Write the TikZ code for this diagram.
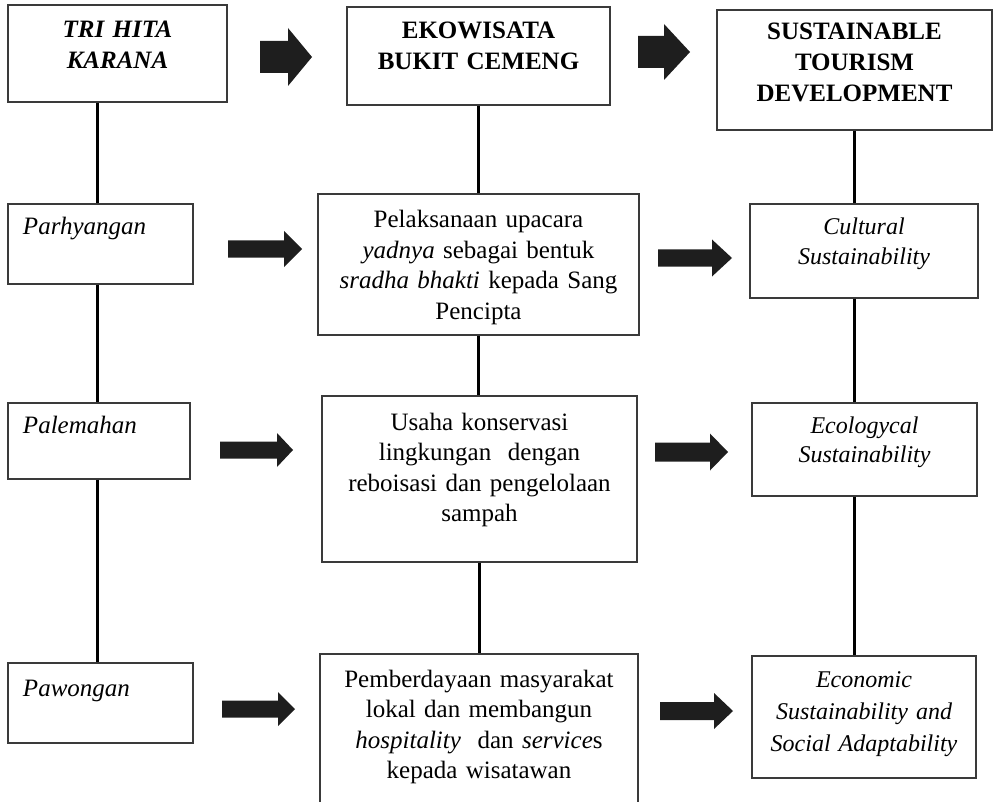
\documentclass[tikz,border=0pt]{standalone}
\usepackage{fontspec}
\setmainfont{Liberation Serif}
\usetikzlibrary{positioning}
\definecolor{framegray}{HTML}{3A3A3A}
\definecolor{arrowblack}{HTML}{1E1E1E}

\begin{document}
\begin{tikzpicture}%
		[x=1pt, y=-1pt,
		frame/.style={draw=framegray, line width=1.3pt, inner xsep=4pt, inner ysep=0pt,
			align=center, font=\fontsize{25}{30.5}\selectfont},
		head/.style={frame, font=\fontsize{25}{31}\selectfont\bfseries},
		side/.style={frame, align=left, inner xsep=15pt, font=\fontsize{25}{30}\selectfont\itshape},
		link/.style={line width=3pt, draw=black}
		]
		\clip (0,0) rectangle (1003,802);
		% top row
		\node[head, text width=211pt, text height=33pt, text depth=64pt, font=\fontsize{25}{31}\selectfont\bfseries\itshape]
			(thk) at (117.5,53.5) {TRI HITA\\KARANA};
		\node[head, text width=255pt, text height=32pt, text depth=66pt] (eko) at (478.5,56) {EKOWISATA\\BUKIT CEMENG};
		\node[head, text width=267pt, text height=30pt, text depth=90pt] (std) at (854.5,70) {SUSTAINABLE\\TOURISM\\DEVELOPMENT};
		% left column
		\node[side, text width=155pt, text height=31pt, text depth=49pt] (par) at (100.5,244) {Parhyangan};
		\node[side, text width=152pt, text height=30pt, text depth=46pt] (pal) at (99,441) {Palemahan};
		\node[side, text width=155pt, text height=33pt, text depth=47pt] (paw) at (100.5,703) {Pawongan};
		% middle column
		\node[frame, text width=313pt, text height=34pt, text depth=107pt] (pel) at (478.5,264.5)
			{Pelaksanaan upacara\\\textit{yadnya} sebagai bentuk\\\textit{sradha bhakti} kepada Sang\\Pencipta};
		\node[frame, text width=307pt, text height=34pt, text depth=132pt] (usa) at (479.5,479)
			{Usaha konservasi\\lingkungan\ \ dengan\\reboisasi\ dan pengelolaan\\sampah};
		\node[frame, text width=310pt, text height=33pt, text depth=128pt] (pem) at (479,734.5)
			{Pemberdayaan masyarakat\\lokal\ dan membangun\\\textit{hospitality}\ \ dan \textit{service}s\\kepada wisatawan};
		% right column
		\node[frame, text width=220pt, text height=31pt, text depth=63pt, font=\fontsize{24}{30}\selectfont\itshape]
			(cul) at (864,251) {Cultural\\Sustainability};
		\node[frame, text width=217pt, text height=30pt, text depth=63pt, font=\fontsize{24}{29.5}\selectfont\itshape]
			(eco) at (864.5,449.5) {Ecologycal\\Sustainability};
		\node[frame, text width=216pt, text height=31pt, text depth=91pt, font=\fontsize{24}{32}\selectfont\itshape]
			(ecn) at (864,717) {Economic\\Sustainability and\\Social Adaptability};
		
		\coordinate (lcol) at (97,0);
		\coordinate (rcol) at (854,0);
		% vertical links
		\draw[link] (thk.south -| lcol) -- (par.north -| lcol);
		\draw[link] (par.south -| lcol) -- (pal.north -| lcol);
		\draw[link] (pal.south -| lcol) -- (paw.north -| lcol);
		\draw[link] (eko.south) -- (pel.north -| eko.south);
		\draw[link] (pel.south) -- (usa.north -| pel.south);
		\draw[link] (usa.south) -- (pem.north -| usa.south);
		\draw[link] (std.south -| rcol) -- (cul.north -| rcol);
		\draw[link] (cul.south -| rcol) -- (eco.north -| rcol);
		\draw[link] (eco.south -| rcol) -- (ecn.north -| rcol);
		
		% block arrows: start / head start / tip / middle / half shaft / half head
		\foreach \xa/\xh/\xb/\ym/\sh/\hh in {260/288/312/57/16/29, 638/664/690/52/16/28,
			228/284/302/249/8.5/18, 658/712/732/258/8.5/18.5,
			220/277/293/450/8.5/17, 655/710/728/452/9.5/18.5,
			222/278/295/709/8.5/17, 660/714/733/711/9/18}
		\fill[arrowblack] (\xa,{\ym-\sh}) -- (\xh,{\ym-\sh}) -- (\xh,{\ym-\hh}) -- (\xb,\ym)
			-- (\xh,{\ym+\hh}) -- (\xh,{\ym+\sh}) -- (\xa,{\ym+\sh}) -- cycle;
\end{tikzpicture}
\end{document}
